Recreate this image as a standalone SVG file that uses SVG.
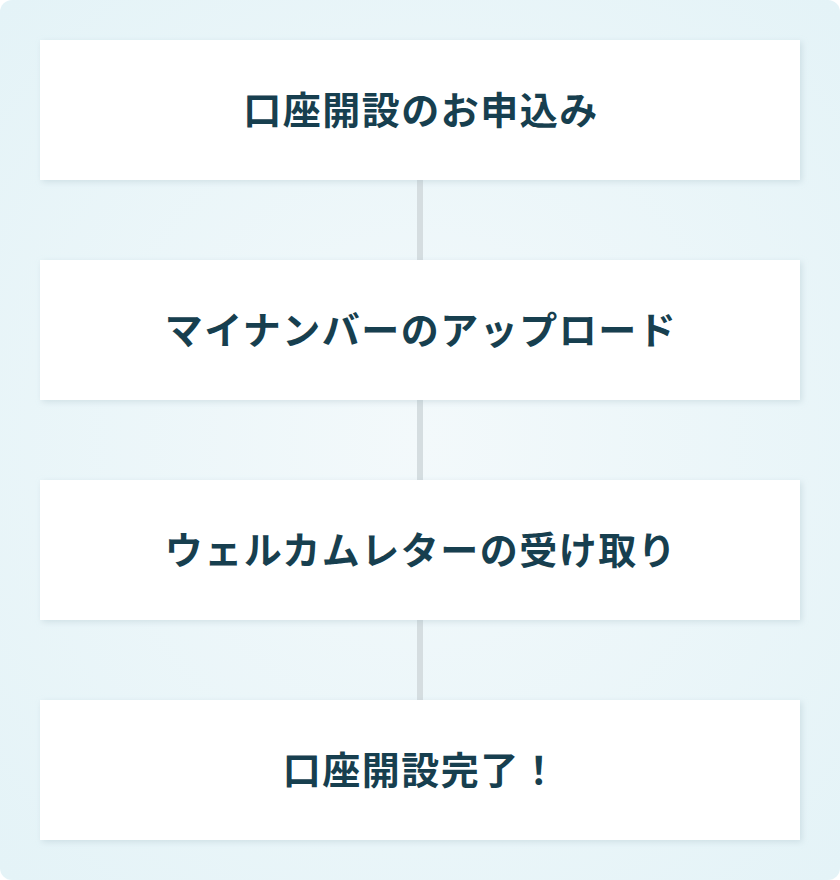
<svg xmlns="http://www.w3.org/2000/svg" width="840" height="880" viewBox="0 0 840 880">
  <defs>
    <radialGradient id="bg" cx="50%" cy="50%" r="70%">
      <stop offset="0" stop-color="#f3f9fb"/>
      <stop offset="1" stop-color="#e4f3f7"/>
    </radialGradient>
    <filter id="sh" x="-5%" y="-20%" width="110%" height="140%">
      <feDropShadow dx="2" dy="2" stdDeviation="3" flood-color="#9fb8c2" flood-opacity="0.35"/>
    </filter>
    <style>
      .box { fill: #ffffff; filter: url(#sh); }
      .lbl { font-family: "Noto Sans CJK JP", "Noto Sans", sans-serif; font-weight: 700; font-size: 38px; fill: #173f4f; text-anchor: middle; dominant-baseline: central; letter-spacing: 1.5px; }
      .conn { stroke: #d5dde0; stroke-width: 6; fill: none; }
    </style>
  </defs>
  <rect x="0" y="0" width="840" height="880" rx="12" fill="url(#bg)"/>
  <g id="connectors">
    <line class="conn" x1="420" y1="180" x2="420" y2="260"/>
    <line class="conn" x1="420" y1="400" x2="420" y2="480"/>
    <line class="conn" x1="420" y1="620" x2="420" y2="700"/>
  </g>
  <g id="step1">
    <rect class="box" x="40" y="40" width="760" height="140"/>
    <text class="lbl" x="421" y="107">口座開設のお申込み</text>
  </g>
  <g id="step2">
    <rect class="box" x="40" y="260" width="760" height="140"/>
    <text class="lbl" x="421" y="327">マイナンバーのアップロード</text>
  </g>
  <g id="step3">
    <rect class="box" x="40" y="480" width="760" height="140"/>
    <text class="lbl" x="421" y="547">ウェルカムレターの受け取り</text>
  </g>
  <g id="step4">
    <rect class="box" x="40" y="700" width="760" height="140"/>
    <text class="lbl" x="421" y="767">口座開設完了！</text>
  </g>
</svg>
